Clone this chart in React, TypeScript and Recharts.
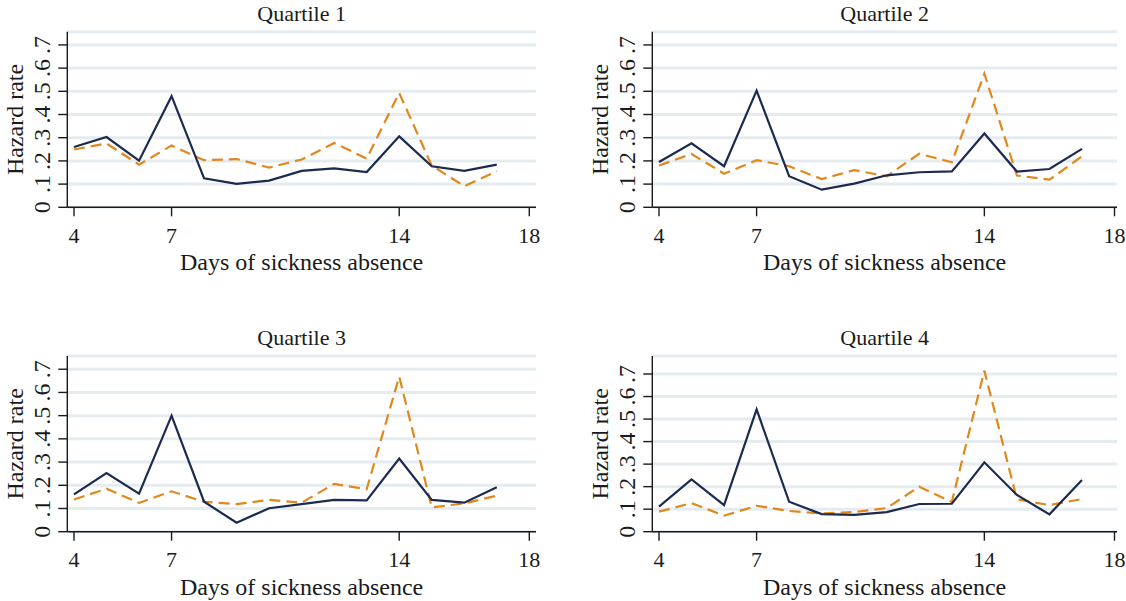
import React from "react";
import { CartesianGrid, Label, Line, LineChart, XAxis, YAxis } from "recharts";

const days = [4, 5, 6, 7, 8, 9, 10, 11, 12, 13, 14, 15, 16, 17];
const xTicks = [4, 7, 14, 18];
const yTicks = [0, 0.1, 0.2, 0.3, 0.4, 0.5, 0.6, 0.7];

const q1Solid = [0.26, 0.303, 0.201, 0.479, 0.125, 0.101, 0.115, 0.157, 0.168, 0.152, 0.306, 0.177, 0.157, 0.184];
const q1Dashed = [0.249, 0.275, 0.184, 0.266, 0.203, 0.208, 0.171, 0.206, 0.277, 0.21, 0.493, 0.18, 0.091, 0.155];
const q2Solid = [0.195, 0.276, 0.177, 0.503, 0.134, 0.076, 0.102, 0.138, 0.151, 0.155, 0.318, 0.154, 0.165, 0.252];
const q2Dashed = [0.18, 0.23, 0.145, 0.203, 0.177, 0.122, 0.16, 0.134, 0.231, 0.194, 0.576, 0.137, 0.119, 0.22];
const q3Solid = [0.161, 0.253, 0.164, 0.5, 0.129, 0.039, 0.101, 0.119, 0.137, 0.135, 0.315, 0.137, 0.125, 0.191];
const q3Dashed = [0.139, 0.185, 0.124, 0.174, 0.129, 0.119, 0.137, 0.125, 0.206, 0.183, 0.668, 0.105, 0.122, 0.155];
const q4Solid = [0.111, 0.232, 0.118, 0.543, 0.133, 0.078, 0.075, 0.087, 0.123, 0.124, 0.308, 0.163, 0.077, 0.229];
const q4Dashed = [0.089, 0.127, 0.071, 0.115, 0.092, 0.081, 0.087, 0.105, 0.2, 0.132, 0.715, 0.144, 0.118, 0.145];

const FONT = "'Liberation Serif', 'Times New Roman', serif";
const NAVY = "#1b2a4e";
const ORANGE = "#e2871c";
const GRID = "#e4ecf0";
const INK = "#1a1a1a";

const fmtY = (v: number) => (v === 0 ? "0" : "." + Math.round(v * 10));

function XTick(props: any) {
  const { x, y, payload } = props;
  return (
    <text x={x} y={y} dy="0.71em" textAnchor="middle" fontFamily={FONT} fontSize={22} fill={INK}>
      {payload.value}
    </text>
  );
}

function YTick(props: any) {
  const { x, y, payload } = props;
  return (
    <text x={x} y={y} transform={`rotate(-90, ${x}, ${y})`} textAnchor="middle" fontFamily={FONT} fontSize={24} fill={INK}>
      {fmtY(payload.value)}
    </text>
  );
}

function XTitle(props: any) {
  const vb = props.viewBox;
  return (
    <text x={vb.x + vb.width / 2} y={vb.y + 63} textAnchor="middle" fontFamily={FONT} fontSize={24} fill={INK}>
      Days of sickness absence
    </text>
  );
}

function YTitle(props: any) {
  const vb = props.viewBox;
  const x = vb.x + 23.3;
  const y = vb.y + vb.height / 2;
  return (
    <text x={x} y={y} transform={`rotate(-90, ${x}, ${y})`} textAnchor="middle" fontFamily={FONT} fontSize={24} fill={INK}>
      Hazard rate
    </text>
  );
}

type PanelProps = {
  title: string;
  solid: number[];
  dashed: number[];
  left: number;
  top: number;
  width: number;
  height: number;
  margin: { top: number; right: number; left: number; bottom: number };
  yTop: number;
  padRight: number;
  titleTop: number;
};

function Panel(p: PanelProps) {
  const data = days.map((d, i) => ({ day: d, solid: p.solid[i], dashed: p.dashed[i] }));
  const plotLeft = 67.3;
  const plotW = p.width - plotLeft - p.margin.right;
  return (
    <>
      <div
        style={{
          position: "absolute",
          left: p.left + plotLeft,
          top: p.titleTop,
          width: plotW,
          textAlign: "center",
          fontFamily: FONT,
          fontSize: 22,
          lineHeight: "22px",
          color: INK,
        }}
      >
        {p.title}
      </div>
      <div style={{ position: "absolute", left: p.left, top: p.top }}>
        <LineChart width={p.width} height={p.height} data={data} margin={p.margin}>
          <CartesianGrid horizontal vertical={false} stroke={GRID} strokeWidth={3} />
          <XAxis
            dataKey="day"
            type="number"
            domain={[4, 18]}
            ticks={xTicks}
            interval={0}
            padding={{ left: 6.7, right: p.padRight }}
            height={60}
            tickSize={9}
            tickMargin={11}
            tick={<XTick />}
            axisLine={{ stroke: INK, strokeWidth: 1.4 }}
            tickLine={{ stroke: INK, strokeWidth: 1.4 }}
          >
            <Label content={<XTitle />} />
          </XAxis>
          <YAxis
            type="number"
            domain={[0, p.yTop]}
            ticks={yTicks}
            interval={0}
            width={plotLeft}
            tickSize={9}
            tickMargin={8}
            tick={<YTick />}
            axisLine={{ stroke: INK, strokeWidth: 1.4 }}
            tickLine={{ stroke: INK, strokeWidth: 1.4 }}
          >
            <Label content={<YTitle />} />
          </YAxis>
          <Line
            type="linear"
            dataKey="dashed"
            stroke={ORANGE}
            strokeWidth={2.2}
            strokeDasharray="11 6"
            dot={false}
            isAnimationActive={false}
          />
          <Line type="linear" dataKey="solid" stroke={NAVY} strokeWidth={2.2} dot={false} isAnimationActive={false} />
        </LineChart>
      </div>
    </>
  );
}

export default function App() {
  return (
    <div style={{ position: "absolute", left: 0, top: 0, width: 1126, height: 601, background: "#fff", overflow: "hidden" }}>
      <Panel
        title="Quartile 1"
        solid={q1Solid}
        dashed={q1Dashed}
        left={0}
        top={0}
        width={560}
        height={290}
        margin={{ top: 31.7, right: 24, left: 0, bottom: 22.7 }}
        yTop={0.757}
        padRight={6.7}
        titleTop={3.3}
      />
      <Panel
        title="Quartile 2"
        solid={q2Solid}
        dashed={q2Dashed}
        left={585}
        top={0}
        width={541}
        height={290}
        margin={{ top: 31.7, right: 9, left: 0, bottom: 22.7 }}
        yTop={0.757}
        padRight={2.5}
        titleTop={3.3}
      />
      <Panel
        title="Quartile 3"
        solid={q3Solid}
        dashed={q3Dashed}
        left={0}
        top={320}
        width={560}
        height={281}
        margin={{ top: 36, right: 24, left: 0, bottom: 9.3 }}
        yTop={0.757}
        padRight={6.7}
        titleTop={326.6}
      />
      <Panel
        title="Quartile 4"
        solid={q4Solid}
        dashed={q4Dashed}
        left={585}
        top={320}
        width={541}
        height={281}
        margin={{ top: 36, right: 9, left: 0, bottom: 9.3 }}
        yTop={0.78}
        padRight={2.5}
        titleTop={326.6}
      />
    </div>
  );
}
